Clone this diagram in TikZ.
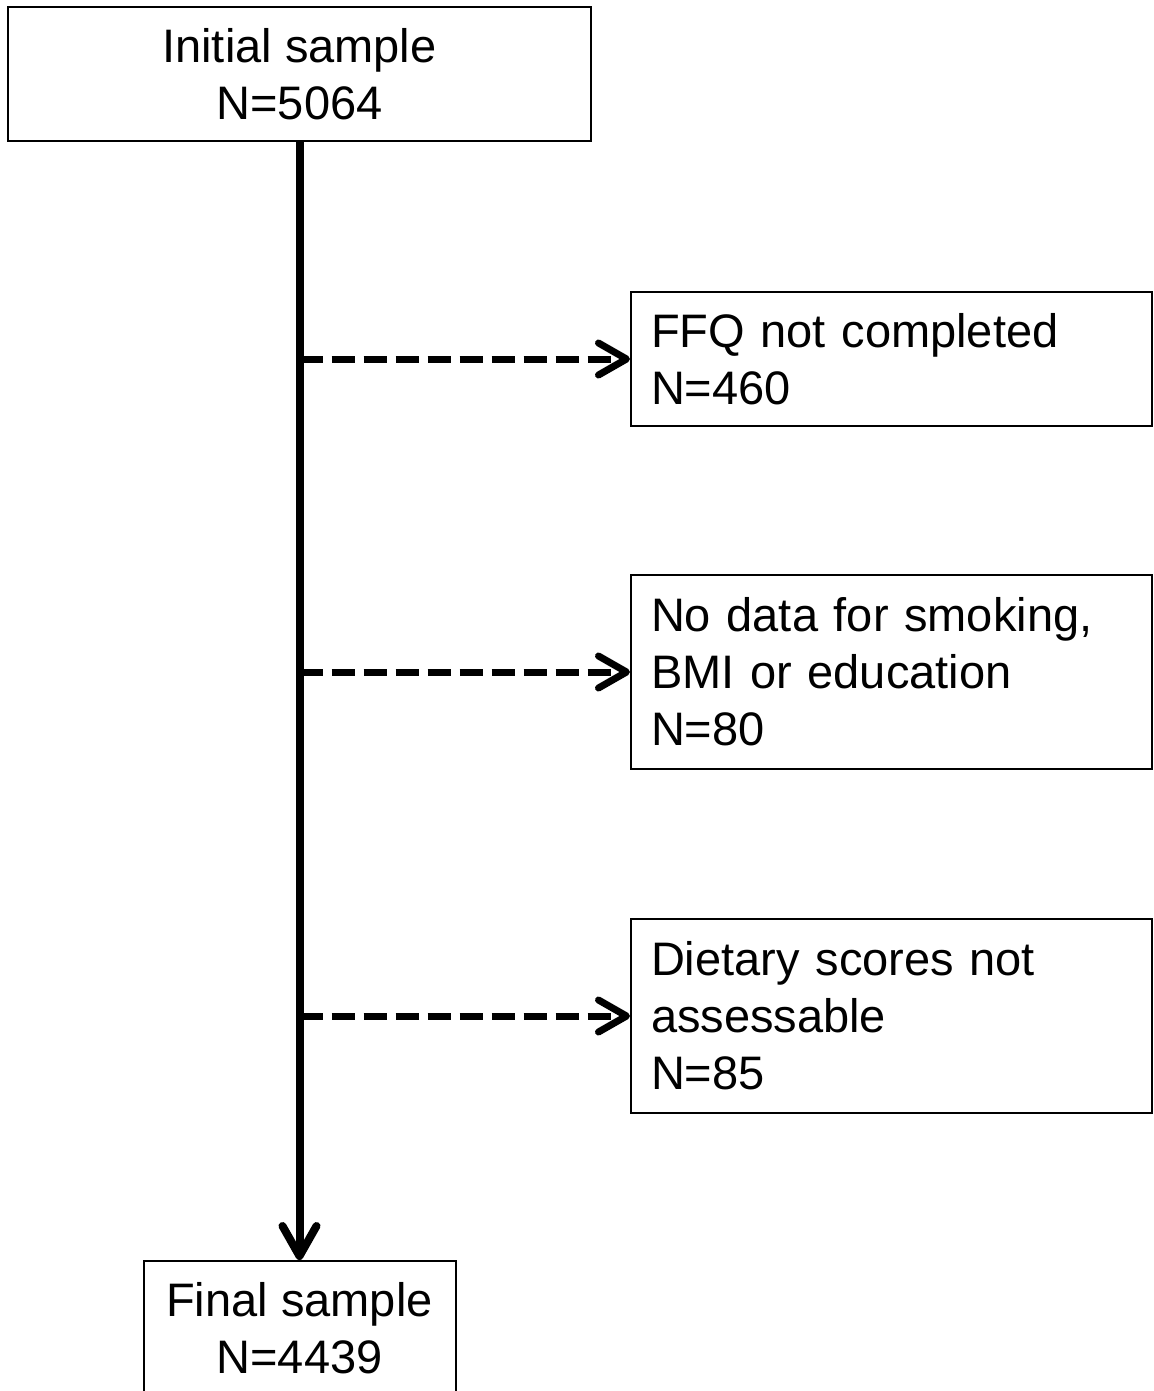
\documentclass[tikz,border=0pt]{standalone}
\usepackage{fontspec}
\setmainfont{Liberation Sans}
\usetikzlibrary{arrows.meta}
\begin{document}
\begin{tikzpicture}[x=1pt,y=-1pt,
  box/.style={draw=black, line width=2pt, rectangle, inner sep=0pt,
    font=\fontsize{47}{57}\selectfont},
  cbox/.style={box, align=center},
  lbox/.style={box, align=left, text width=481pt, inner xsep=20pt,
    minimum width=521pt},
  mainflow/.style={line width=8pt, -{Straight Barb[length=30pt,width=34pt,round]}},
  excl/.style={line width=7pt, dash pattern=on 23pt off 9pt,
    -{Straight Barb[length=28pt,width=32pt,round]}}
]
\fill[white] (0,0) rectangle (1153,1391);
\useasboundingbox (0,0) rectangle (1153,1391);
\clip (0,0) rectangle (1153,1391);

\node[cbox, minimum width=583pt, minimum height=134pt] (init) at (299.5,74) {Initial sample\\N=5064};
\node[lbox, minimum height=134pt] (ffq) at (891.5,359) {FFQ not completed\\N=460};
\node[lbox, minimum height=194pt] (nodata) at (891.5,672) {No data for smoking,\\BMI or education\\N=80};
\node[lbox, minimum height=194pt] (diet) at (891.5,1016) {Dietary scores not\\assessable\\N=85};
\node[cbox, minimum width=312pt, minimum height=134pt] (final) at (299.5,1328) {Final sample\\N=4439};

\draw[mainflow] (init.south) -- (final.north);
\draw[excl] (init.south |- ffq.west) -- (ffq.west);
\draw[excl] (init.south |- nodata.west) -- (nodata.west);
\draw[excl] (init.south |- diet.west) -- (diet.west);
\end{tikzpicture}
\end{document}
